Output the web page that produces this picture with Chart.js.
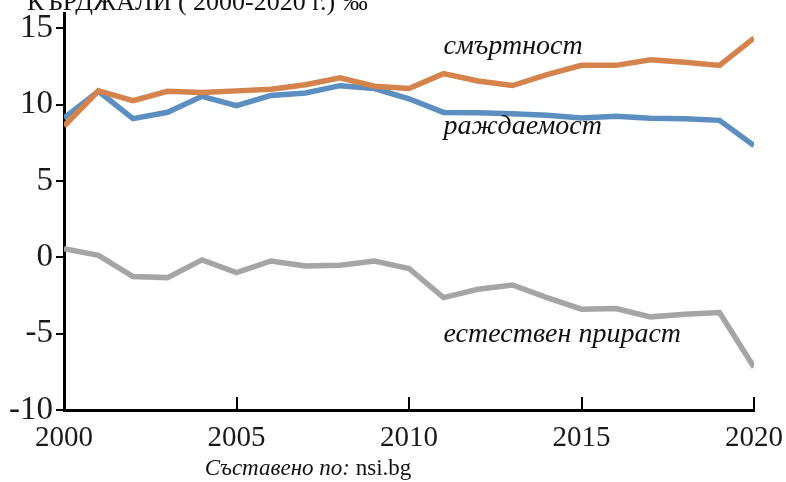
<!DOCTYPE html>
<html><head><meta charset="utf-8">
<script src="https://cdn.jsdelivr.net/npm/chart.js@4.4.0/dist/chart.umd.min.js"></script>
<style>html,body{margin:0;padding:0;background:#fff}#wrap{width:786px;height:482px}</style>
</head><body><div id="wrap"><canvas id="c" width="786" height="482"></canvas></div>
<script>
const years = [2000,2001,2002,2003,2004,2005,2006,2007,2008,2009,2010,2011,2012,2013,2014,2015,2016,2017,2018,2019,2020];
const deathRate = [8.6,10.9,10.26,10.87,10.8,10.9,11.0,11.3,11.75,11.2,11.05,12.03,11.55,11.25,11.96,12.57,12.57,12.94,12.77,12.57,14.36];
const birthRate = [9.13,10.87,9.08,9.5,10.54,9.93,10.6,10.76,11.24,11.05,10.38,9.49,9.47,9.4,9.3,9.13,9.24,9.1,9.08,8.97,7.32];
const naturalIncrease = [0.57,0.13,-1.26,-1.33,-0.17,-1.0,-0.24,-0.57,-0.52,-0.24,-0.73,-2.64,-2.09,-1.81,-2.64,-3.4,-3.35,-3.9,-3.73,-3.62,-7.2];
const yTicks = [-10,-5,0,5,10,15];
const xTicks = [2000,2005,2010,2015,2020];
const seriesLabels = ['смъртност','раждаемост','естествен прираст'];
const labelAnchors = [[2011,13.3],[2011,8.05],[2011,-5.57]];
const titleText = 'КЪРДЖАЛИ ( 2000-2020 г.) ‰';
const sourceItalic = 'Съставено по:';
const sourceRegular = ' nsi.bg';

const colors = ['#D3834B','#5C8EC0','#A5A5A5'];
const serif = '"Liberation Serif", "Times New Roman", serif';

function pts(arr){ return years.map((y,i)=>({x:y,y:arr[i]})); }

const extras = {
  id:'extras',
  afterDraw(chart){
    const ctx = chart.ctx, xs = chart.scales.x, ys = chart.scales.y;
    ctx.save();
    // inward x ticks
    ctx.strokeStyle = '#000'; ctx.lineWidth = 2;
    const bottom = chart.chartArea.bottom;
    xTicks.forEach(v=>{
      const px = Math.round(xs.getPixelForValue(v));
      ctx.beginPath(); ctx.moveTo(px, bottom); ctx.lineTo(px, bottom-13); ctx.stroke();
    });
    // title (cut at top)
    ctx.fillStyle = '#111';
    ctx.textBaseline = 'alphabetic'; ctx.textAlign = 'left';
    ctx.font = '26px ' + serif;
    ctx.fillText(titleText, 27, 10);
    // series labels
    ctx.font = 'italic 28px ' + serif;
    seriesLabels.forEach((t,i)=>{
      ctx.fillText(t, xs.getPixelForValue(labelAnchors[i][0]), ys.getPixelForValue(labelAnchors[i][1]));
    });
    // source
    ctx.font = 'italic 23px ' + serif;
    const w1 = ctx.measureText(sourceItalic).width;
    ctx.font = '23px ' + serif;
    const w2 = ctx.measureText(sourceRegular).width;
    const sx = 308 - (w1+w2)/2;
    ctx.font = 'italic 23px ' + serif;
    ctx.fillText(sourceItalic, sx, 475);
    ctx.font = '23px ' + serif;
    ctx.fillText(sourceRegular, sx + w1, 475);
    ctx.restore();
  }
};

new Chart(document.getElementById('c'), {
  type:'line',
  data:{
    datasets:[
      {label:seriesLabels[0], data:pts(deathRate), borderColor:colors[0]},
      {label:seriesLabels[1], data:pts(birthRate), borderColor:colors[1]},
      {label:seriesLabels[2], data:pts(naturalIncrease), borderColor:colors[2]}
    ].map(d=>Object.assign(d,{borderWidth:5.5, pointRadius:0, tension:0, fill:false, borderJoinStyle:'miter'}))
  },
  options:{
    responsive:false, devicePixelRatio:1, animation:false,
    layout:{padding:{top:13,right:32,left:0,bottom:0}},
    plugins:{legend:{display:false}, tooltip:{enabled:false}},
    scales:{
      x:{type:'linear', min:2000, max:2020,
        afterBuildTicks:s=>{s.ticks = xTicks.map(v=>({value:v}));},
        afterFit:s=>{s.height = 72; s.paddingLeft = 0; s.paddingRight = 0;},
        ticks:{font:{family:serif,size:29}, color:'#1a1a1a', padding:11, maxRotation:0, autoSkip:false, callback:v=>String(v)},
        grid:{drawOnChartArea:false, drawTicks:false},
        border:{display:true, color:'#000', width:3}
      },
      y:{min:-10, max:16,
        afterBuildTicks:s=>{s.ticks = yTicks.map(v=>({value:v}));},
        afterFit:s=>{s.width = 64; s.paddingTop = 0; s.paddingBottom = 0;},
        ticks:{font:{family:serif,size:33}, color:'#1a1a1a', padding:3, callback:v=>String(v)},
        grid:{drawOnChartArea:false, drawTicks:true, tickLength:8, color:'#000', lineWidth:2},
        border:{display:true, color:'#000', width:3}
      }
    }
  },
  plugins:[extras]
});
</script></body></html>
